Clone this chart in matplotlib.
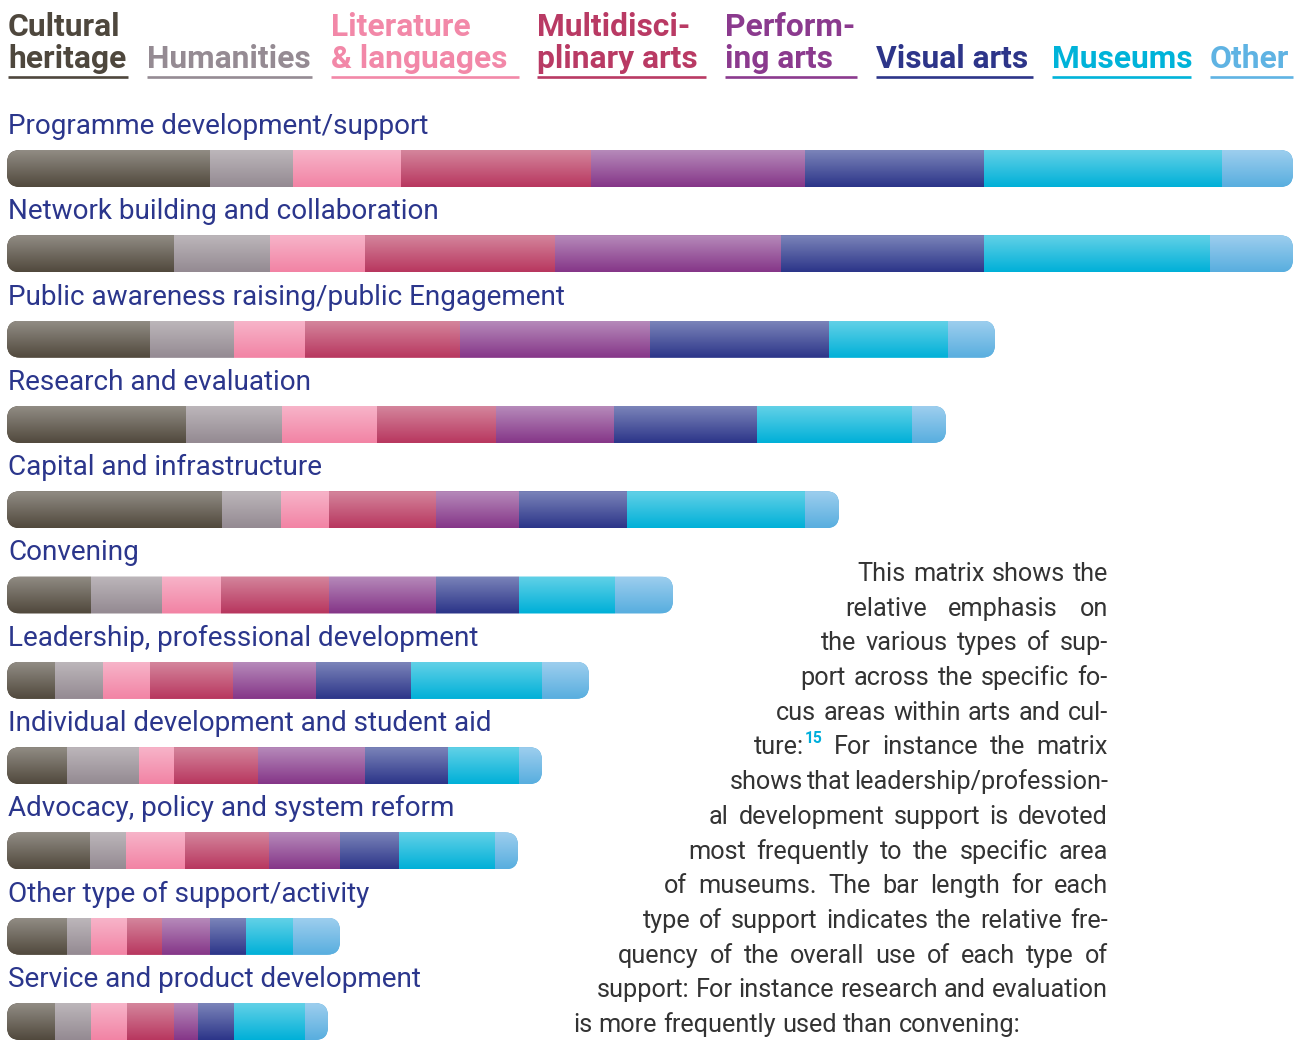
import numpy as np
import matplotlib
matplotlib.use("Agg")
import matplotlib.pyplot as plt
from matplotlib import font_manager as fm
from matplotlib.patches import FancyBboxPatch
from matplotlib.colors import to_rgb

# ---------------- data ----------------
support_types = [
    "Programme development/support",
    "Network building and collaboration",
    "Public awareness raising/public Engagement",
    "Research and evaluation",
    "Capital and infrastructure",
    "Convening",
    "Leadership, professional development",
    "Individual development and student aid",
    "Advocacy, policy and system reform",
    "Other type of support/activity",
    "Service and product development",
]
focus_areas = ["Cultural heritage", "Humanities", "Literature & languages",
               "Multidisciplinary arts", "Performing arts", "Visual arts",
               "Museums", "Other"]
header_labels = ["Cultural\nheritage", "Humanities", "Literature\n& languages",
                 "Multidisci-\nplinary arts", "Perform-\ning arts", "Visual arts",
                 "Museums", "Other"]

# relative frequency (arbitrary units)
cultural_heritage = [203, 167, 143, 179, 215, 84, 48, 60, 83, 60, 48]
humanities        = [83, 96, 84, 96, 59, 71, 48, 72, 36, 24, 36]
literature        = [108, 95, 71, 95, 48, 59, 47, 35, 59, 36, 36]
multidisciplinary = [190, 190, 155, 119, 107, 108, 83, 84, 84, 35, 47]
performing_arts   = [214, 226, 190, 118, 83, 107, 83, 107, 71, 48, 24]
visual_arts       = [179, 203, 179, 143, 108, 83, 95, 83, 59, 36, 36]
museums           = [238, 226, 119, 155, 178, 96, 131, 71, 96, 47, 71]
other             = [71, 83, 47, 34, 34, 58, 47, 23, 23, 47, 23]
series = [cultural_heritage, humanities, literature, multidisciplinary,
          performing_arts, visual_arts, museums, other]

body_lines = [
    "This matrix shows the",
    "relative emphasis on",
    "the various types of sup-",
    "port across the specific fo-",
    "cus areas within arts and cul-",
    "ture:^15 For instance the matrix",
    "shows that leadership/profession-",
    "al development support is devoted",
    "most frequently to the specific area",
    "of museums. The bar length for each",
    "type of support indicates the relative fre-",
    "quency of the overall use of each type of",
    "support: For instance research and evaluation",
    "is more frequently used than convening:",
]

# ---------------- styles ----------------
top_colors = ["#918c84", "#bcb6ba", "#f7b4c9", "#d4859c", "#b68aba",
              "#7b84b9", "#62d1e7", "#9dceee"]
bottom_colors = ["#51493d", "#948a92", "#f283a4", "#b8375f", "#853688",
                 "#2c3589", "#00b0d8", "#58aedf"]
header_colors = ["#4e473d", "#958b93", "#f288a8", "#b93a64", "#8b3a8e",
                 "#2d3589", "#00b3d9", "#5fb3e3"]
label_color = "#2b368c"
body_color = "#333333"
sup_color = "#00aedb"

W, H = 1306, 1041
fig = plt.figure(figsize=(W / 100, H / 100), dpi=100)
ax = fig.add_axes([0, 0, 1, 1])
ax.set_xlim(0, W)
ax.set_ylim(H, 0)
ax.axis("off")
renderer = fig.canvas.get_renderer()


def has_font(name):
    try:
        fm.findfont(fm.FontProperties(family=name), fallback_to_default=False)
        return True
    except Exception:
        return False


base_font = "Roboto" if has_font("Roboto") else "DejaVu Sans"


def width_of(s, **kw):
    t = ax.text(0, 0, s, **kw)
    w = t.get_window_extent(renderer).width
    t.remove()
    return w


def fit_size(s, target, **kw):
    return 20 * target / width_of(s, fontsize=20, **kw)


# ---------------- layout ----------------
x0 = 7
bar_h = 37
row_top0 = 150
row_step = 85.3
radius = 13

label_kw = dict(family=base_font, weight="normal")
label_size = fit_size(support_types[2], 558, **label_kw)

vals = np.array(series, dtype=float)  # shape (areas, types)
lefts = x0 + np.vstack([np.zeros(vals.shape[1]), np.cumsum(vals, axis=0)[:-1]])
totals = vals.sum(axis=0)

for i, name in enumerate(support_types):
    top = row_top0 + row_step * i
    yc = top + bar_h / 2
    clip = FancyBboxPatch((x0, top), totals[i], bar_h,
                          boxstyle=f"round,pad=0,rounding_size={radius}",
                          transform=ax.transData, facecolor="none",
                          edgecolor="none")
    ax.add_patch(clip)
    bars = ax.barh([yc] * len(focus_areas), vals[:, i], left=lefts[:, i],
                   height=bar_h, color=bottom_colors, linewidth=0)
    for b in bars:
        b.set_clip_path(clip)
    for k in range(len(focus_areas)):
        c0 = np.array(to_rgb(top_colors[k]))
        c1 = np.array(to_rgb(bottom_colors[k]))
        t = np.linspace(0, 1, 64)[:, None]
        grad = (c0 * (1 - t) + c1 * t)[:, None, :]
        im = ax.imshow(grad, extent=(lefts[k, i], lefts[k, i] + vals[k, i],
                                     top + bar_h, top),
                       origin="upper", aspect="auto", interpolation="bilinear",
                       zorder=2)
        im.set_clip_path(clip)
    ax.text(x0 + 1, top - 16, name, fontsize=label_size, color=label_color,
            va="baseline", ha="left", **label_kw)

# ---------------- header ----------------
header_x = [8, 147, 331, 537, 725, 876, 1052, 1210]
underline_end = [128, 312, 519, 706, 857, 1033, 1191, 1293]
head_kw = dict(family=base_font, weight="bold")
head_size = fit_size("Humanities", 163, **head_kw)
for k, lab in enumerate(header_labels):
    parts = lab.split("\n")
    if len(parts) == 1:
        parts = ["", parts[0]]
    for j, p in enumerate(parts):
        if p:
            ax.text(header_x[k], 36 + 32 * j, p, fontsize=head_size,
                    color=header_colors[k], va="baseline", ha="left", **head_kw)
    ax.plot([header_x[k], underline_end[k]], [77, 77], color=header_colors[k],
            lw=1.9, solid_capstyle="butt")

# ---------------- body text ----------------
body_kw = dict(family=base_font, weight="normal")
body_size = fit_size(body_lines[12], 511, **body_kw)
sup_size = body_size * 0.62
sup_kw = dict(family=base_font, weight="bold")
line_left = [857, 845, 821, 800, 776, 754, 730, 709, 688, 664, 643, 618, 597, 573]
right_edge = 1108
base0 = 581
line_step = 34.7


def word_parts(w):
    if "^" in w:
        a, b = w.split("^")
        return [(a, False), (b, True)]
    return [(w, False)]


def part_width(p, sup):
    if sup:
        return width_of(p, fontsize=sup_size, **sup_kw)
    return width_of(p, fontsize=body_size, **body_kw)


for li, line in enumerate(body_lines):
    yb = base0 + line_step * li
    words = line.split(" ")
    widths = [sum(part_width(p, s) for p, s in word_parts(w)) for w in words]
    space = width_of("a b", fontsize=body_size, **body_kw) - \
        width_of("ab", fontsize=body_size, **body_kw)
    if li == len(body_lines) - 1:
        gap = space
    else:
        gap = (right_edge - line_left[li] - sum(widths)) / (len(words) - 1)
    x = line_left[li]
    for w, ww in zip(words, widths):
        xx = x
        for p, s in word_parts(w):
            if s:
                ax.text(xx + 1, yb - body_size * 0.62, p, fontsize=sup_size,
                        color=sup_color, va="baseline", ha="left", **sup_kw)
            else:
                ax.text(xx, yb, p, fontsize=body_size, color=body_color,
                        va="baseline", ha="left", **body_kw)
            xx += part_width(p, s)
        x += ww + gap

ax.set_xlim(0, W)
ax.set_ylim(H, 0)
fig.savefig("out.png", dpi=100)
